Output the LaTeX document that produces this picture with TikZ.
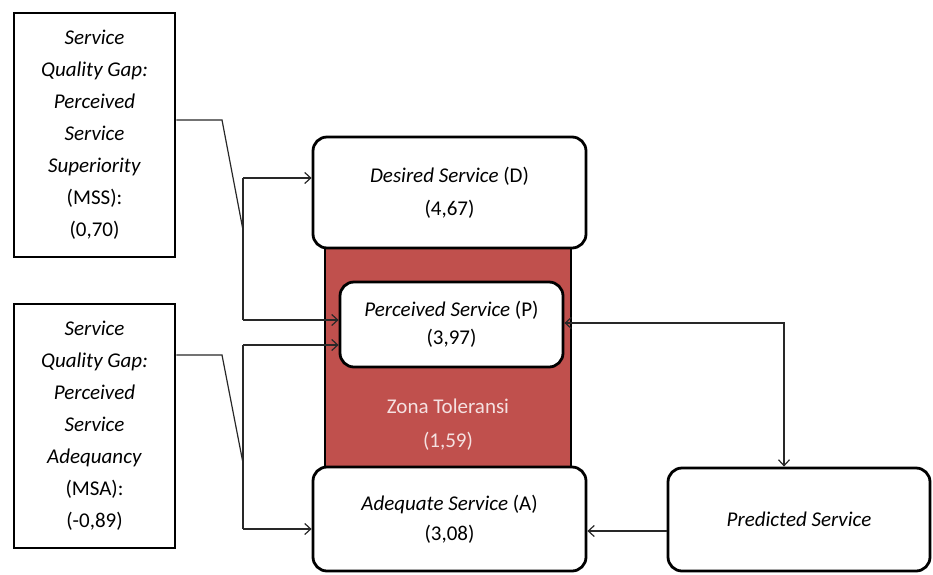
\documentclass[tikz,border=0pt]{standalone}
\usepackage{fontspec}
\setmainfont{Carlito}
\usetikzlibrary{arrows.meta}
\definecolor{zonered}{RGB}{192,80,77}
\definecolor{zonetext}{RGB}{245,225,225}
\definecolor{linegray}{RGB}{40,40,40}
\tikzset{
  gapbox/.style={draw=black, line width=2.8pt, fill=white, align=center, inner sep=0pt,
    font=\fontsize{21}{32}\selectfont},
  svcbox/.style={draw=black, line width=2.8pt, fill=white, rounded corners=14pt, align=center, inner sep=0pt,
    font=\fontsize{21}{32}\selectfont},
  conn/.style={draw=linegray, line width=1.2pt},
  tip/.tip={Straight Barb[length=6pt,width=11pt,line width=1.2pt]}
}
\begin{document}
\begin{tikzpicture}[x=1pt,y=-1pt]
\useasboundingbox (0,0) rectangle (933,574);
% red tolerance zone
\node[draw=black, line width=1.2pt, fill=zonered, minimum width=246pt, minimum height=225pt, inner sep=0pt] (red) at (448,357.5) {};
\node[text=zonetext, align=center, font=\fontsize{21}{34}\selectfont] (zona) at (448,425) {Zona Toleransi\\(1,59)};
% gap boxes
\node[gapbox, minimum width=161pt, minimum height=244pt] (mss) at (94.5,135)
  {\textit{Service}\\\textit{Quality Gap:}\\\textit{Perceived}\\\textit{Service}\\\textit{Superiority}\\(MSS):\\(0,70)};
\node[gapbox, minimum width=161pt, minimum height=244pt] (msa) at (94.5,426)
  {\textit{Service}\\\textit{Quality Gap:}\\\textit{Perceived}\\\textit{Service}\\\textit{Adequancy}\\(MSA):\\(-0,89)};
% service boxes
\node[svcbox, minimum width=273pt, minimum height=111pt, font=\fontsize{21}{33}\selectfont] (des) at (449.5,192.5)
  {\textit{Desired Service} (D)\\(4,67)};
\node[svcbox, minimum width=223pt, minimum height=85pt, font=\fontsize{21}{28}\selectfont] (per) at (451.5,324.5)
  {\textit{Perceived Service} (P)\\(3,97)};
\node[svcbox, minimum width=273pt, minimum height=104pt, font=\fontsize{21}{30}\selectfont] (ade) at (449.5,519)
  {\textit{Adequate Service} (A)\\(3,08)};
\node[svcbox, minimum width=262pt, minimum height=103pt] (pre) at (799,519.5)
  {\textit{Predicted Service}};
% MSS connectors
\coordinate (m1) at (222,120);
\coordinate (j1) at (243,230);
\coordinate (a1) at (243,178);
\coordinate (a2) at (243,320);
\draw[conn] (mss.east |- m1) -- (m1) -- (j1);
\draw[conn] (a1) -- (a2);
\draw[conn,-tip] (a1) -- (des.west |- a1);
\draw[conn,-tip] (a2) -- (per.west |- a2);
% MSA connectors
\coordinate (m2) at (222,355);
\coordinate (j2) at (243,463);
\coordinate (b1) at (243,345);
\coordinate (b2) at (243,529);
\draw[conn] (msa.east |- m2) -- (m2) -- (j2);
\draw[conn] (b1) -- (b2);
\draw[conn,-tip] (b1) -- (per.west |- b1);
\draw[conn,-tip] (b2) -- (ade.west |- b2);
% predicted connectors
\coordinate (c1) at (784,323);
\draw[conn,tip-tip] (per.east |- c1) -- (c1) -- (c1 |- pre.north);
\coordinate (c2) at (668,531);
\draw[conn,-tip] (pre.west |- c2) -- (ade.east |- c2);
\end{tikzpicture}
\end{document}
